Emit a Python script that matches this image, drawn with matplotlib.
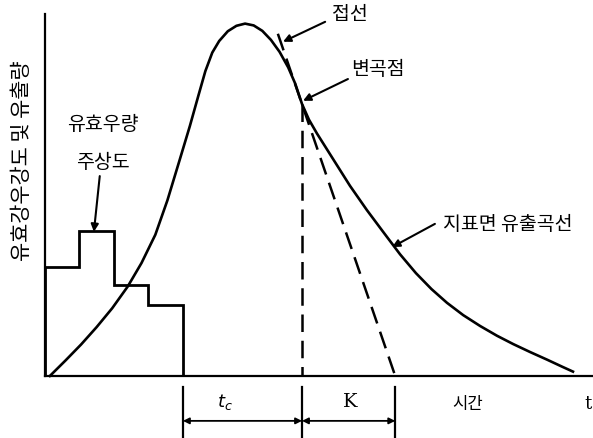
import matplotlib.pyplot as plt

plt.rcParams['font.family'] = ['Noto Sans CJK KR', 'DejaVu Sans']

# effective rainfall hyetograph (time blocks, intensity)
rain_edges = [0, 1, 2, 3, 4]
rain = [3.0, 4.0, 2.5, 1.95]

# surface runoff hydrograph
hydro_t = [0.145, 0.6, 1.05, 1.5, 1.95, 2.4, 2.8, 3.2, 3.55, 3.9,
           4.2, 4.45, 4.65, 4.85, 5.05, 5.3, 5.55, 5.8, 6.05, 6.3,
           6.55, 6.8, 7.05, 7.25, 7.45, 7.65, 7.88, 8.35, 8.84, 9.33,
           9.80, 10.29, 10.75, 11.2, 11.65, 12.12, 12.61, 13.10, 13.57,
           14.06, 14.55, 15.0, 15.30]
hydro_q = [0.00, 0.43, 0.87, 1.35, 1.87, 2.47, 3.12, 3.90, 4.85, 5.95,
           6.90, 7.75, 8.42, 8.93, 9.25, 9.52, 9.67, 9.73, 9.68, 9.53,
           9.28, 8.95, 8.52, 8.08, 7.51, 7.08, 6.70, 5.99, 5.25, 4.58,
           3.98, 3.36, 2.84, 2.40, 2.02, 1.68, 1.38, 1.11, 0.88,
           0.66, 0.45, 0.25, 0.12]

# inflection point and tangent through it
t_end_rain = 4.0
t_infl, q_infl = 7.45, 7.51
tangent_t = [6.75, 10.15]
tangent_q = [9.45, 0.0]

fig = plt.figure(figsize=(5.93, 4.39), dpi=100)
ax = fig.add_axes([0, 0, 1, 1])
ax.set_xlim(-1.30, 15.88)
ax.set_ylim(-1.713, 10.41)
ax.set_axis_off()

# axes lines
ax.plot([0, 0], [0, 10.0], color='black', lw=1.6)
ax.plot([0, 15.9], [0, 0], color='black', lw=1.6)

ax.stairs(rain, rain_edges, baseline=0, color='black', lw=2.0)
ax.plot(hydro_t, hydro_q, color='black', lw=1.9, solid_joinstyle='round')

ax.plot(tangent_t, tangent_q, color='black', lw=1.8, ls=(0, (7, 3.5)))
ax.plot([t_infl, t_infl], [q_infl, 0], color='black', lw=1.8, ls=(0, (7, 3.5)))

# dimension lines under the time axis
for x in [t_end_rain, t_infl, tangent_t[1]]:
    ax.plot([x, x], [-0.30, -1.70], color='black', lw=1.6)
arr = dict(arrowstyle='<|-|>', color='black', lw=1.3, mutation_scale=9,
           shrinkA=0, shrinkB=0)
ax.annotate('', xy=(t_infl, -1.24), xytext=(t_end_rain, -1.24), arrowprops=arr)
ax.annotate('', xy=(tangent_t[1], -1.24), xytext=(t_infl, -1.24), arrowprops=arr)

ax.text(5.22, -0.69, '$t_c$', fontsize=13, family='DejaVu Serif',
        ha='center', va='center')
ax.text(8.84, -0.69, 'K', fontsize=14, family='DejaVu Serif',
        ha='center', va='center')
ax.text(12.26, -0.75, '시간', fontsize=12, ha='center', va='center')
ax.text(15.74, -0.75, 't', fontsize=13, family='DejaVu Serif',
        ha='center', va='center')

ax.text(-0.67, 5.97, '유효강우강도 및 유출량', fontsize=15, rotation=90,
        ha='center', va='center')

ax.text(1.68, 6.96, '유효우량', fontsize=14, ha='center', va='center')
ax.text(1.68, 5.91, '주상도', fontsize=14, ha='center', va='center')

pointer = dict(arrowstyle='-|>', color='black', lw=1.5, mutation_scale=11,
               shrinkA=0, shrinkB=0)
ax.annotate('', xy=(1.42, 3.98), xytext=(1.59, 5.52), arrowprops=pointer)

ax.text(8.84, 10.0, '접선', fontsize=14, ha='center', va='center')
ax.annotate('', xy=(6.90, 9.23), xytext=(8.12, 9.78), arrowprops=pointer)

ax.text(9.65, 8.48, '변곡점', fontsize=14, ha='center', va='center')
ax.annotate('', xy=(7.48, 7.60), xytext=(8.78, 8.20), arrowprops=pointer)

ax.text(11.54, 4.20, '지표면 유출곡선', fontsize=14, ha='left', va='center')
ax.annotate('', xy=(10.06, 3.56), xytext=(11.30, 4.20), arrowprops=pointer)

fig.savefig('out.png', dpi=100)
